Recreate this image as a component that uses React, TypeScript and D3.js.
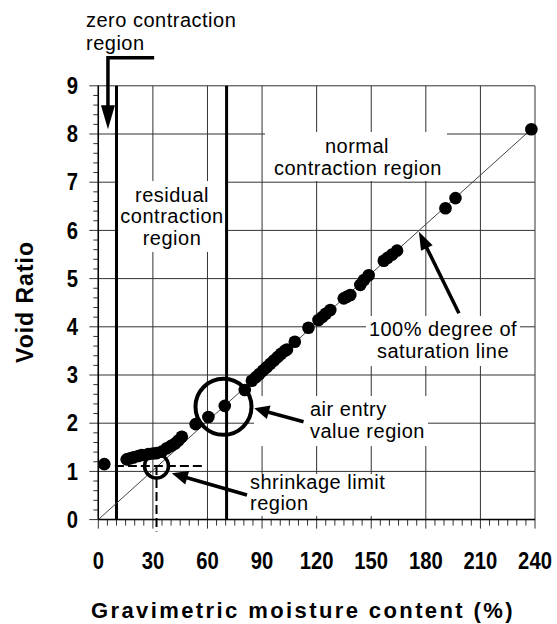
import React from "react";
import * as d3 from "d3";

// ---- data ----
const moisture = [
  3.3, 15.6, 17.5, 19.3, 22, 23.9, 27.5, 30, 32.1, 34.9, 37.6, 40, 42.2, 44, 45.9,
  53.5, 60.5, 69.5, 80.5, 84.4, 86.5, 88.5, 90.5, 92.5, 94.5, 96.5, 98.5, 100.5,
  102.5, 103.7, 108, 115.5, 121, 123, 125, 127.5, 134.9, 136.5, 138.5, 144, 146,
  148.6, 156.9, 159, 161.5, 164.2, 190.8, 196.3, 238,
];
const voidRatio = [
  1.15, 1.25, 1.27, 1.29, 1.32, 1.34, 1.36, 1.37, 1.38, 1.41, 1.48, 1.53, 1.58, 1.64,
  1.72, 1.98, 2.13, 2.36, 2.69, 2.88, 2.95, 3.02, 3.09, 3.16, 3.23, 3.3, 3.37, 3.44,
  3.5, 3.53, 3.69, 3.98, 4.14, 4.2, 4.27, 4.35, 4.59, 4.62, 4.66, 4.87, 4.97, 5.07,
  5.37, 5.43, 5.5, 5.58, 6.46, 6.67, 8.1,
];
const xTicks = [0, 30, 60, 90, 120, 150, 180, 210, 240];
const yTicks = [0, 1, 2, 3, 4, 5, 6, 7, 8, 9];
const satLineW = [0, 238];
const satLineE = [0, 8.1];
const regionBoundaries = [10, 70.5];
const shrinkageLimit = { w: 32, e: 1.11 };
const airEntry = { w: 68.8, e: 2.34 };

const W = 557;
const H = 624;

export default function App() {
  const x = d3.scaleLinear().domain([0, 240]).range([98.3, 535]);
  const y = d3.scaleLinear().domain([0, 9]).range([519.6, 85.8]);
  const font = "'Liberation Sans', Arial, sans-serif";

  const minorX = d3.range(0, 241, 5).filter((v) => v % 30 !== 0);
  const minorY = d3.range(0, 9.01, 0.2).filter((v) => Math.abs(v - Math.round(v)) > 0.01);

  const pts = moisture.map((w, i) => [w, voidRatio[i]] as [number, number]);
  const satPath = d3.line()(satLineW.map((w, i) => [x(w), y(satLineE[i])] as [number, number]));

  const arrow = (
    tail: [number, number],
    tip: [number, number],
    headLen: number,
    headW: number,
    key: string,
    extra?: [number, number][]
  ) => {
    const dx = tip[0] - tail[0];
    const dy = tip[1] - tail[1];
    const len = Math.hypot(dx, dy);
    const ux = dx / len;
    const uy = dy / len;
    const bx = tip[0] - ux * headLen;
    const by = tip[1] - uy * headLen;
    const p1 = [bx - uy * headW, by + ux * headW];
    const p2 = [bx + uy * headW, by - ux * headW];
    const shaft = [...(extra || []), tail, [bx + ux * 2, by + uy * 2]] as [number, number][];
    return (
      <g key={key}>
        <path
          d={d3.line()(shaft) || ""}
          fill="none"
          stroke="#000"
          strokeWidth={3.5}
          strokeLinejoin="miter"
        />
        <polygon
          points={`${tip[0]},${tip[1]} ${p1[0]},${p1[1]} ${p2[0]},${p2[1]}`}
          fill="#000"
        />
      </g>
    );
  };

  const annot = { fontFamily: font, fontSize: 20, letterSpacing: 0.5, fill: "#000" } as const;

  return (
    <svg
      width={W}
      height={H}
      style={{ position: "absolute", left: 0, top: 0, background: "#fff" }}
    >
      <rect x={0} y={0} width={W} height={H} fill="#fff" />

      {/* grid */}
      <g stroke="#333" strokeWidth={1}>
        {yTicks.map((t) => (
          <line key={"gy" + t} x1={x(0) - 9} x2={x(240)} y1={y(t)} y2={y(t)} />
        ))}
        {xTicks.map((t) => (
          <line key={"gx" + t} x1={x(t)} x2={x(t)} y1={y(9)} y2={y(0) + 9} />
        ))}
        {minorX.map((t) => (
          <line key={"mx" + t} x1={x(t)} x2={x(t)} y1={y(0)} y2={y(0) + 6} />
        ))}
        {minorY.map((t) => (
          <line key={"my" + t} x1={x(0) - 5} x2={x(0)} y1={y(t)} y2={y(t)} />
        ))}
      </g>
      {/* axes */}
      <line x1={x(0)} x2={x(0)} y1={y(9)} y2={y(0)} stroke="#000" strokeWidth={1.5} />
      <line x1={x(0)} x2={x(240)} y1={y(0)} y2={y(0)} stroke="#000" strokeWidth={1.5} />

      {/* white label boxes */}
      <g fill="#fff">
        <rect x={265} y={132} width={182} height={49} />
        <rect x={118} y={181} width={107} height={71} />
        <rect x={366} y={316} width={154} height={50} />
        <rect x={254} y={396} width={174} height={50} />
        <rect x={248} y={474} width={142} height={42} />
      </g>

      {/* region boundaries */}
      {regionBoundaries.map((b) => (
        <line key={"rb" + b} x1={x(b)} x2={x(b)} y1={y(9)} y2={y(0)} stroke="#000" strokeWidth={3} />
      ))}

      {/* 100% saturation line */}
      <path d={satPath || ""} stroke="#444" strokeWidth={1} fill="none" />

      {/* shrinkage limit dashed guides */}
      <g stroke="#000" strokeWidth={2} strokeDasharray="9,4" fill="none">
        <line x1={x(9.1)} x2={x(57.6)} y1={y(shrinkageLimit.e)} y2={y(shrinkageLimit.e)} />
        <line x1={x(shrinkageLimit.w)} x2={x(shrinkageLimit.w)} y1={y(shrinkageLimit.e)} y2={y(0) + 12} />
      </g>

      {/* data points */}
      <g fill="#000">
        {pts.map((p, i) => (
          <circle key={"p" + i} cx={x(p[0])} cy={y(p[1])} r={6.3} />
        ))}
      </g>

      {/* region circles */}
      <circle cx={x(shrinkageLimit.w)} cy={y(shrinkageLimit.e)} r={12} fill="none" stroke="#000" strokeWidth={3.5} />
      <circle cx={x(airEntry.w)} cy={y(airEntry.e)} r={28} fill="none" stroke="#000" strokeWidth={4} />

      {/* arrows */}
      {arrow([x(5.3), y(9.58)], [x(5.3), y(8.1)], 24, 7, "a0", [[x(30.7), y(9.58)]])}
      {arrow([x(112.8), y(2.03)], [x(85.7), y(2.31)], 15, 7, "a1")}
      {arrow([x(81.7), y(0.51)], [x(40.4), y(0.96)], 16, 7, "a2")}
      {arrow([x(198.2), y(4.28)], [x(176.2), y(5.97)], 18, 6.5, "a3")}

      {/* annotations */}
      <text {...annot} x={86} y={27}>zero contraction</text>
      <text {...annot} x={86} y={50}>region</text>

      <g textAnchor="middle">
        <text {...annot} x={172} y={201.7}>residual</text>
        <text {...annot} x={172} y={223.3}>contraction</text>
        <text {...annot} x={172} y={245}>region</text>

        <text {...annot} x={357} y={152.7}>normal</text>
        <text {...annot} x={358} y={175}>contraction region</text>

        <text {...annot} x={443} y={336}>100% degree of</text>
        <text {...annot} x={443} y={358}>saturation line</text>
      </g>

      <text {...annot} x={310} y={416}>air entry</text>
      <text {...annot} x={310} y={438.3}>value region</text>
      <text {...annot} x={250} y={489.3}>shrinkage limit</text>
      <text {...annot} x={250} y={510}>region</text>

      {/* tick labels */}
      <g fontFamily={font} fontWeight="bold" fontSize={23} fill="#000">
        {yTicks.map((t) => (
          <text
            key={"yl" + t}
            transform={`translate(78,${y(t)}) scale(0.88,1)`}
            dy="0.36em"
            textAnchor="end"
          >
            {t}
          </text>
        ))}
        {xTicks.map((t) => (
          <text
            key={"xl" + t}
            transform={`translate(${x(t)},569) scale(0.88,1)`}
            textAnchor="middle"
          >
            {t}
          </text>
        ))}
      </g>

      {/* axis titles */}
      <text
        fontFamily={font}
        fontWeight="bold"
        fontSize={23}
        letterSpacing={1}
        textAnchor="middle"
        transform={`translate(33,${302}) rotate(-90)`}
      >
        Void Ratio
      </text>
      <text
        fontFamily={font}
        fontWeight="bold"
        fontSize={22}
        letterSpacing={2.4}
        textAnchor="middle"
        x={303}
        y={618}
      >
        Gravimetric moisture content (%)
      </text>
    </svg>
  );
}
